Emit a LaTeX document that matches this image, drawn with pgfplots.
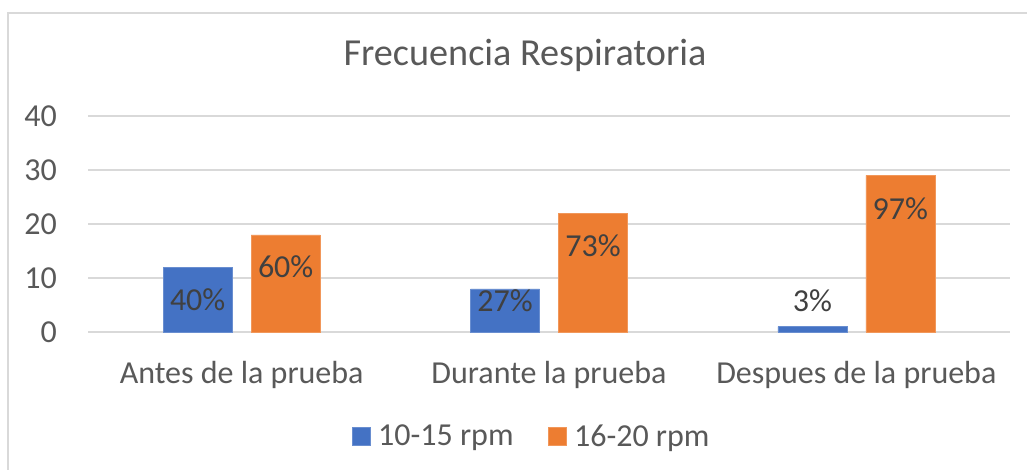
\documentclass[border=0pt]{standalone}
\usepackage{fontspec}
\setmainfont{Carlito}
\usepackage{pgfplots}
\pgfplotsset{compat=1.18}
\definecolor{xblue}{HTML}{4472C4}
\definecolor{xorange}{HTML}{ED7D31}
\definecolor{tickgray}{HTML}{595959}
\definecolor{labgray}{HTML}{404040}
\definecolor{gridgray}{HTML}{D9D9D9}
\begin{document}
\begin{tikzpicture}
\useasboundingbox (0,0) rectangle (1027pt,470pt);
\fill[white] (0,0) rectangle (1027pt,470pt);
\draw[gridgray, line width=1.2pt] (8pt,0) -- (8pt,457pt) -- (1027pt,457pt);
\node[anchor=base, text=tickgray, font=\fontsize{38.2}{44}\selectfont] at (525pt,404.5pt) {Frecuencia Respiratoria};
\begin{axis}[
  at={(88pt,138pt)}, anchor=south west, scale only axis,
  width=922pt, height=216pt,
  xmin=-0.5, xmax=2.5, ymin=0, ymax=40,
  xtick={0,1,2},
  xticklabels={Antes de la prueba, Durante la prueba, Despues de la prueba},
  ytick={0,10,20,30,40},
  axis line style={draw=none},
  major tick length=0pt,
  tick style={draw=none},
  ymajorgrids,
  major grid style={gridgray, line width=1.5pt},
  /pgf/number format/assume math mode=true,
  ticklabel style={font=\fontsize{32}{38}\selectfont, text=tickgray, inner sep=0pt},
  yticklabel style={anchor=base east, xshift=-31pt, yshift=-10.5pt},
  xticklabel style={anchor=base, yshift=-52pt},
  legend style={at={(0.48,-0.4815)}, anchor=center, draw=none, fill=none,
    legend columns=2, font=\fontsize{32}{38}\selectfont, text=tickgray,
    nodes={inner sep=0pt},
    /tikz/every odd column/.append style={column sep=8pt},
    /tikz/every even column/.append style={column sep=34pt}},
  legend image code/.code={\fill[#1] (0pt,-9pt) rectangle (18pt,9pt);},
  clip=false,
]
\addplot[ybar, bar width=69pt, bar shift=-44pt, fill=xblue, draw=xblue!80!white, line width=0.5pt]
  coordinates {(0,12) (1,8) (2,1)};
\addlegendentry{10-15 rpm}
\addplot[ybar, bar width=69pt, bar shift=44pt, fill=xorange, draw=xorange!80!white, line width=0.5pt]
  coordinates {(0,18) (1,22) (2,29)};
\addlegendentry{16-20 rpm}
\addplot[forget plot, draw=none, mark=none, point meta=explicit,
  nodes near coords={\pgfmathprintnumber{\pgfplotspointmeta}\%},
  every node near coord/.style={anchor=center, text=labgray, font=\fontsize{32}{38}\selectfont, inner sep=0pt}]
  table[meta=p] {
x y p
-0.1432 6.0 40
0.8568 5.7 27
1.8568 5.7 3
};
\addplot[forget plot, draw=none, mark=none, point meta=explicit,
  nodes near coords={\pgfmathprintnumber{\pgfplotspointmeta}\%},
  every node near coord/.style={anchor=center, text=labgray, font=\fontsize{32}{38}\selectfont, inner sep=0pt}]
  table[meta=p] {
x y p
0.1432 12.0 60
1.1432 15.9 73
2.1432 22.8 97
};
\end{axis}
\end{tikzpicture}
\end{document}
